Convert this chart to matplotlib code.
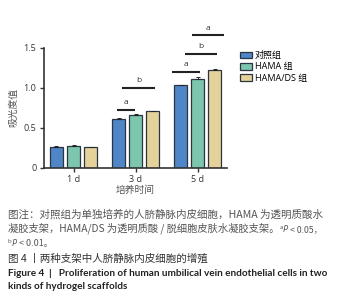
import matplotlib
matplotlib.use("Agg")
import matplotlib.pyplot as plt
import numpy as np

plt.rcParams["font.family"] = ["Open Sans", "Noto Sans CJK SC", "DejaVu Sans"]

days = ["1 d", "3 d", "5 d"]
groups = ["对照组", "HAMA 组", "HAMA/DS 组"]
control = [0.26, 0.61, 1.03]
hama = [0.27, 0.66, 1.11]
hama_ds = [0.255, 0.705, 1.22]
control_err = [0.01, 0.008, 0.006]
hama_err = [0.01, 0.008, 0.02]
hama_ds_err = [0.008, 0.008, 0.01]

# significance brackets: x start, x end, height, label
sig_x0 = [0.70, 0.78, 1.58, 1.80, 1.90]
sig_x1 = [0.99, 1.31, 2.03, 2.31, 2.42]
sig_y = [0.725, 1.00, 1.20, 1.425, 1.655]
sig_label = ["a", "b", "a", "b", "a"]

colors = ["#4f86c8", "#7cc6ad", "#e5d29b"]
edge = "#2b3440"
W, H = 353, 302

fig = plt.figure(figsize=(W / 100, H / 100), dpi=100)
ax = fig.add_axes([44 / W, 134.3 / H, 183 / W, 120 / H])

x = np.arange(len(days))
step = 0.274
width = 0.21
series = [(control, control_err), (hama, hama_err), (hama_ds, hama_ds_err)]
for i, (vals, errs) in enumerate(series):
    ax.bar(x + (i - 1) * step, vals, width, color=colors[i], edgecolor=edge,
           linewidth=0.9, label=groups[i], zorder=2)
    ax.errorbar(x + (i - 1) * step, vals, yerr=[np.zeros(3), errs], fmt="none",
                ecolor="#222222", elinewidth=0.7, capsize=1.5, capthick=0.7, zorder=3)

for x0, x1, y, lab in zip(sig_x0, sig_x1, sig_y, sig_label):
    ax.plot([x0, x1], [y, y], color="#222222", lw=1.5, clip_on=False, solid_capstyle="butt")
    ax.text((x0 + x1) / 2, y + 0.04, lab, ha="center", va="bottom", fontsize=6,
            color="#333333", clip_on=False)

ax.set_xlim(-0.475, 2.47)
ax.set_ylim(0, 1.5)
ax.set_xticks(x)
ax.set_xticklabels(days, fontsize=6.5, color="#333333")
ax.set_yticks([0, 0.5, 1.0, 1.5])
ax.set_yticklabels(["0", "0.5", "1.0", "1.5"], fontsize=6.5, color="#333333")
ax.tick_params(length=3, width=1, color="#333333", pad=2.5)
for s in ["top", "right"]:
    ax.spines[s].set_visible(False)
for s in ["left", "bottom"]:
    ax.spines[s].set_linewidth(1.2)
    ax.spines[s].set_color("#333333")
ax.set_ylabel("吸光度值", fontsize=7, color="#555555", labelpad=4,
              family=["Noto Sans CJK SC"])
ax.set_xlabel("培养时间", fontsize=7, color="#555555", labelpad=0.5,
              family=["Noto Sans CJK SC"])

ax.legend(loc="upper left", bbox_to_anchor=(240 / W, 1 - 51 / H),
          bbox_transform=fig.transFigure, frameon=False,
          handlelength=1.35, handleheight=0.8, handletextpad=0.3,
          labelspacing=0.25, borderpad=0, borderaxespad=0,
          prop={"family": ["Open Sans", "Noto Sans CJK SC"], "size": 6.5})

renderer = fig.canvas.get_renderer()


def text_run(parts, ypx, xpx=8):
    # parts: (text, size, color, weight, style, raise_px, family)
    cur = xpx
    for txt, size, col, wt, st, rise, fam in parts:
        t = fig.text(cur / W, 1 - (ypx - rise) / H, txt, fontsize=size, color=col,
                     weight=wt, style=st, va="baseline", ha="left", family=fam)
        cur += t.get_window_extent(renderer).width


cjk = ["Noto Sans CJK SC", "DejaVu Sans"]
latin = ["Open Sans", "DejaVu Sans"]
bold = ["Lato", "DejaVu Sans"]
g = "#555555"
fs = 7.6
text_run([("图注：对照组为单独培养的人脐静脉内皮细胞，HAMA 为透明质酸水", fs, g, "normal", "normal", 0, cjk)], 218)
text_run([("凝胶支架，HAMA/DS 为透明质酸 / 脱细胞皮肤水凝胶支架。", 7.4, g, "normal", "normal", 0, cjk),
          ("a", 4.5, g, "normal", "normal", 3, latin),
          ("P", 6.5, g, "normal", "italic", 0, latin),
          (" < 0.05，", 6.3, g, "normal", "normal", 0, cjk)], 232)
text_run([("b", 4.5, g, "normal", "normal", 3, latin),
          ("P", 6.5, g, "normal", "italic", 0, latin),
          (" < 0.01。", 6.5, g, "normal", "normal", 0, cjk)], 246)
text_run([("图 4 丨两种支架中人脐静脉内皮细胞的增殖", fs, "#333333", "normal", "normal", 0, cjk)], 262)
text_run([("Figure 4  |   Proliferation of human umbilical vein endothelial cells in two", 7.2, "#222222", "bold", "normal", 0, bold)], 276)
text_run([("kinds of hydrogel scaffolds", 7.2, "#222222", "bold", "normal", 0, bold)], 289)

fig.savefig("out.png", dpi=100)
